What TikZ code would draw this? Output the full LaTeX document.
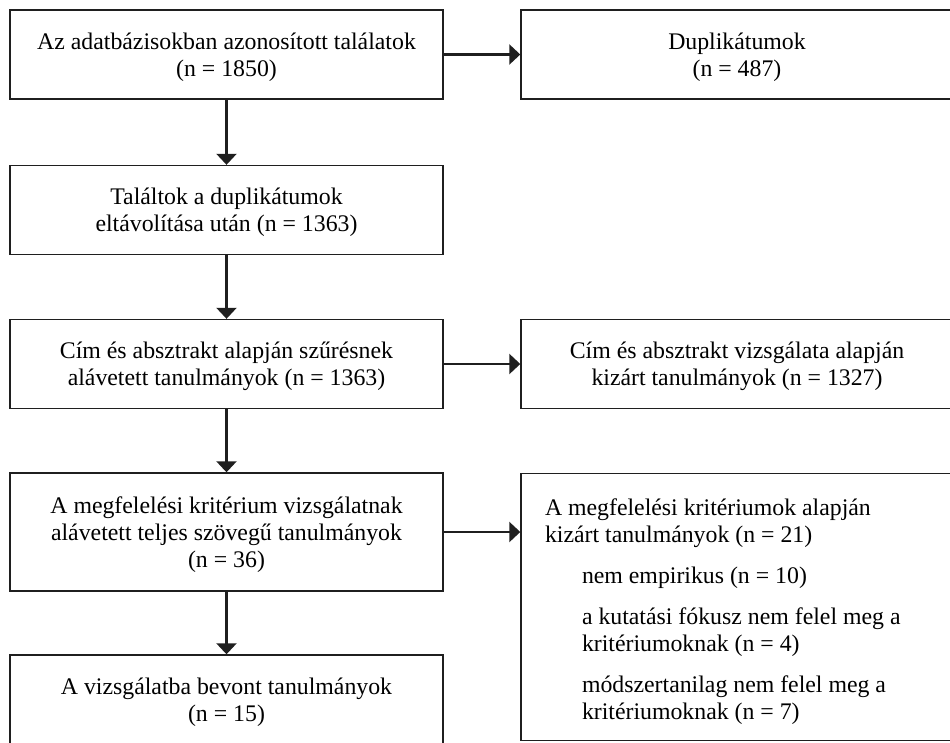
\documentclass[tikz,border=0pt]{standalone}
\usepackage{fontspec}
\setmainfont{Liberation Serif}
\usetikzlibrary{arrows.meta}
\begin{document}
\begin{tikzpicture}[x=1pt,y=-1pt,
  font=\fontsize{23.8}{27}\selectfont,
  box/.style={draw=black!88, line width=1.4pt, align=center,
    minimum width=433pt, minimum height=89pt, inner sep=0pt, text depth=-3pt},
  arr/.style={draw=black!88, line width=2.2pt, -{Triangle[width=20pt,length=11pt]}}]
  \useasboundingbox (0,0) rectangle (950,742);
  \clip (0,0) rectangle (950,742);

  % main column
  \node[box] (found) at (226.5,54.5) {Az adatbázisokban azonosított találatok\\(n = 1850)};
  \node[box] (dedup) at (226.5,210) {Találtok a duplikátumok\\eltávolítása után (n = 1363)};
  \node[box] (screen) at (226.5,364) {Cím és absztrakt alapján szűrésnek\\alávetett tanulmányok (n = 1363)};
  \node[box, minimum height=118pt] (elig) at (226.5,532) {A megfelelési kritérium vizsgálatnak\\alávetett teljes szövegű tanulmányok\\(n = 36)};
  \node[box, minimum height=90pt] (incl) at (226.5,700) {A vizsgálatba bevont tanulmányok\\(n = 15)};

  % excluded
  \node[box, minimum width=432pt] (dup) at (737,54.5) {Duplikátumok\\(n = 487)};
  \node[box, minimum width=432pt] (absex) at (737,364) {Cím és absztrakt vizsgálata alapján\\kizárt tanulmányok (n = 1327)};
  \node[box, align=flush left, text width=384pt, inner xsep=24pt, minimum width=432pt,
    minimum height=267pt, text height=20pt, text depth=204pt] (eligex) at (737,607) {A megfelelési kritériumok alapján\\kizárt tanulmányok (n = 21)\\[14pt]
    \hspace*{37pt}nem empirikus (n = 10)\\[14pt]
    \hspace*{37pt}a kutatási fókusz nem felel meg a\\\hspace*{37pt}kritériumoknak (n = 4)\\[14pt]
    \hspace*{37pt}módszertanilag nem felel meg a\\\hspace*{37pt}kritériumoknak (n = 7)};

  \draw[arr] (found) -- (dedup);
  \draw[arr] (dedup) -- (screen);
  \draw[arr] (screen) -- (elig);
  \draw[arr] (elig) -- (incl);
  \draw[arr] (found) -- (dup);
  \draw[arr] (screen) -- (absex);
  \draw[arr] (elig.east) -- (elig.east -| eligex.west);
\end{tikzpicture}
\end{document}
